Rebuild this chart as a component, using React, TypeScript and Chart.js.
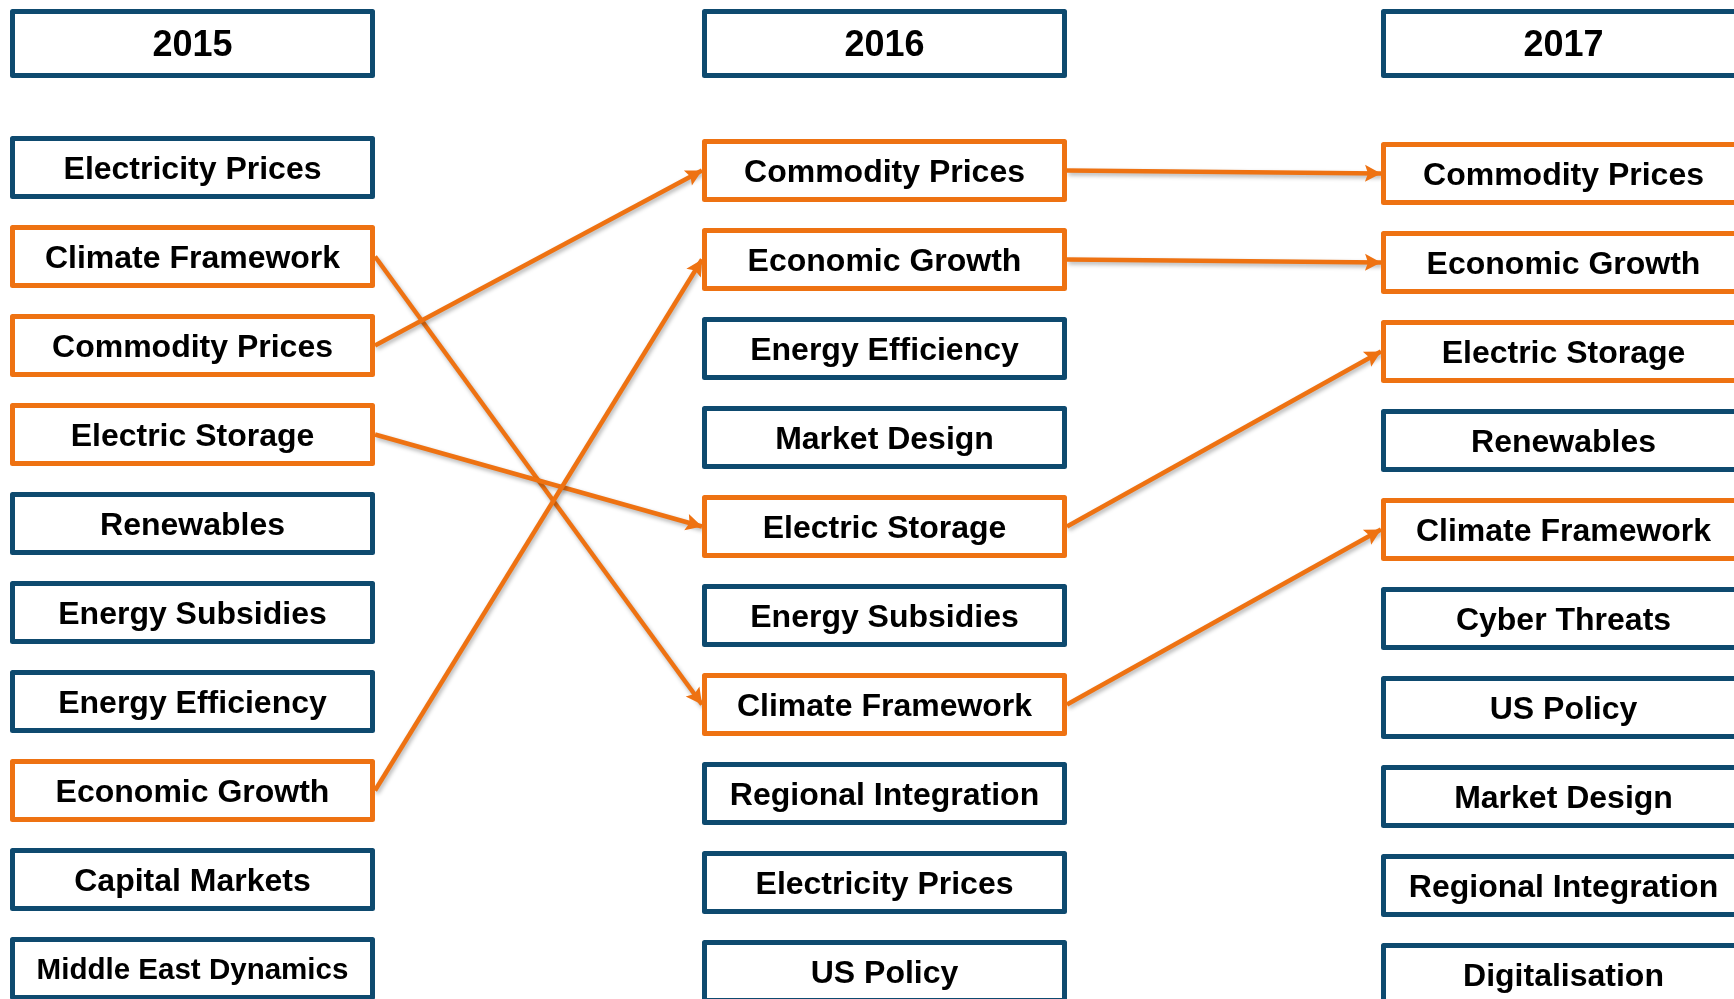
import React, { useEffect, useRef } from "react";
import { Chart, registerables } from "chart.js";

Chart.register(...registerables);

// ---- data ----
const years = ["2015", "2016", "2017"];
const topics2015 = [
  "Electricity Prices",
  "Climate Framework",
  "Commodity Prices",
  "Electric Storage",
  "Renewables",
  "Energy Subsidies",
  "Energy Efficiency",
  "Economic Growth",
  "Capital Markets",
  "Middle East Dynamics",
];
const topics2016 = [
  "Commodity Prices",
  "Economic Growth",
  "Energy Efficiency",
  "Market Design",
  "Electric Storage",
  "Energy Subsidies",
  "Climate Framework",
  "Regional Integration",
  "Electricity Prices",
  "US Policy",
];
const topics2017 = [
  "Commodity Prices",
  "Economic Growth",
  "Electric Storage",
  "Renewables",
  "Climate Framework",
  "Cyber Threats",
  "US Policy",
  "Market Design",
  "Regional Integration",
  "Digitalisation",
];
const highlighted = ["Commodity Prices", "Economic Growth", "Electric Storage", "Climate Framework"];

// ---- layout (canvas units, 1:1 with pixels through the scales) ----
const W = 1734;
const H = 999;
const COL_LEFT = [10, 702, 1381];
const COL_W = 365;
const ROW_TOP0 = [136, 139, 142];
const ROW_STEP = 89;
const BOX_H = 63;
const YEAR_TOP = 9;
const YEAR_H = 69;
const NAVY = "#0E4A6F";
const ORANGE = "#EE7212";

const columns = [topics2015, topics2016, topics2017];

type Box = { x: number; y: number; w: number; h: number; label: string; hl: boolean; year?: boolean };

function buildBoxes(): Box[] {
  const out: Box[] = [];
  years.forEach((yr, c) => {
    out.push({ x: COL_LEFT[c] + COL_W / 2, y: YEAR_TOP + YEAR_H / 2, w: COL_W, h: YEAR_H, label: yr, hl: false, year: true });
    columns[c].forEach((t, i) => {
      out.push({
        x: COL_LEFT[c] + COL_W / 2,
        y: ROW_TOP0[c] + i * ROW_STEP + BOX_H / 2,
        w: COL_W,
        h: BOX_H,
        label: t,
        hl: highlighted.includes(t),
      });
    });
  });
  return out;
}

function buildArrows() {
  const arrows: { x: number; y: number }[][] = [];
  for (let c = 0; c < columns.length - 1; c++) {
    highlighted.forEach((t) => {
      const a = columns[c].indexOf(t);
      const b = columns[c + 1].indexOf(t);
      if (a < 0 || b < 0) return;
      arrows.push([
        { x: COL_LEFT[c] + COL_W, y: ROW_TOP0[c] + a * ROW_STEP + BOX_H / 2 },
        { x: COL_LEFT[c + 1], y: ROW_TOP0[c + 1] + b * ROW_STEP + BOX_H / 2 },
      ]);
    });
  }
  return arrows;
}

const boxPlugin = {
  id: "boxes",
  beforeDatasetDraw(chart: any, args: any) {
    const ds = chart.data.datasets[args.index];
    if (ds.isArrow) {
      const ctx = chart.ctx;
      ctx.save();
      ctx.shadowColor = "rgba(0,0,0,0.3)";
      ctx.shadowBlur = 4;
      ctx.shadowOffsetX = 1.5;
      ctx.shadowOffsetY = 2.5;
    }
  },
  afterDatasetDraw(chart: any, args: any) {
    const ds = chart.data.datasets[args.index];
    if (ds.isArrow) chart.ctx.restore();
  },
  afterDatasetsDraw(chart: any) {
    const ctx = chart.ctx as CanvasRenderingContext2D;
    const xs = chart.scales.x;
    const ys = chart.scales.y;
    // arrowheads
    chart.data.datasets.forEach((ds: any) => {
      if (!ds.isArrow) return;
      const p0 = ds.data[0];
      const p1 = ds.data[1];
      const x0 = xs.getPixelForValue(p0.x), y0 = ys.getPixelForValue(p0.y);
      const x1 = xs.getPixelForValue(p1.x), y1 = ys.getPixelForValue(p1.y);
      const ang = Math.atan2(y1 - y0, x1 - x0);
      const L = 16, HW = 8.5;
      ctx.save();
      ctx.translate(x1, y1);
      ctx.rotate(ang);
      ctx.fillStyle = ORANGE;
      ctx.beginPath();
      ctx.moveTo(0, 0);
      ctx.lineTo(-L, -HW);
      ctx.lineTo(-L + 3, 0);
      ctx.lineTo(-L, HW);
      ctx.closePath();
      ctx.fill();
      ctx.restore();
    });
    // boxes
    const boxDs = chart.data.datasets.find((d: any) => d.isBoxes);
    if (!boxDs) return;
    boxDs.data.forEach((b: any) => {
      const l = xs.getPixelForValue(b.x - b.w / 2);
      const r = xs.getPixelForValue(b.x + b.w / 2);
      const t = ys.getPixelForValue(b.y - b.h / 2);
      const btm = ys.getPixelForValue(b.y + b.h / 2);
      const cx = (l + r) / 2;
      const cy = (t + btm) / 2;
      const bw = 5;
      ctx.save();
      ctx.fillStyle = "#FFFFFF";
      ctx.strokeStyle = b.hl ? ORANGE : NAVY;
      ctx.lineWidth = bw;
      ctx.lineJoin = "round";
      ctx.beginPath();
      ctx.rect(l + bw / 2, t + bw / 2, r - l - bw, btm - t - bw);
      ctx.fill();
      ctx.stroke();
      let size = b.year ? 36 : 32;
      ctx.font = `bold ${size}px "Liberation Sans", Arial, sans-serif`;
      const maxW = 312;
      const tw = ctx.measureText(b.label).width;
      if (tw > maxW) {
        size = (size * maxW) / tw;
        ctx.font = `bold ${size}px "Liberation Sans", Arial, sans-serif`;
      }
      ctx.fillStyle = "#000000";
      ctx.textAlign = "center";
      ctx.textBaseline = "alphabetic";
      ctx.fillText(b.label, cx, cy + size * 0.716 / 2);
      ctx.restore();
    });
  },
};

export default function App() {
  const ref = useRef<HTMLCanvasElement>(null);
  useEffect(() => {
    if (!ref.current) return;
    const boxes = buildBoxes();
    const arrows = buildArrows();
    const chart = new Chart(ref.current, {
      type: "scatter",
      data: {
        datasets: [
          ...arrows.map((pts) => ({
            type: "line" as const,
            data: pts,
            isArrow: true,
            borderColor: ORANGE,
            borderWidth: 4.5,
            pointRadius: 0,
            showLine: true,
            fill: false,
            tension: 0,
          })),
          {
            data: boxes,
            isBoxes: true,
            pointRadius: 0,
            pointHoverRadius: 0,
          } as any,
        ],
      },
      options: {
        animation: false,
        responsive: false,
        maintainAspectRatio: false,
        layout: { padding: 0 },
        events: [],
        plugins: { legend: { display: false }, tooltip: { enabled: false } },
        scales: {
          x: { type: "linear", min: 0, max: W, display: false },
          y: { type: "linear", min: 0, max: H, reverse: true, display: false },
        },
      },
      plugins: [boxPlugin],
    });
    return () => chart.destroy();
  }, []);
  return (
    <div style={{ position: "fixed", left: 0, top: 0, width: W, height: H, background: "#fff" }}>
      <canvas ref={ref} width={W} height={H} style={{ width: W, height: H, display: "block" }} />
    </div>
  );
}
